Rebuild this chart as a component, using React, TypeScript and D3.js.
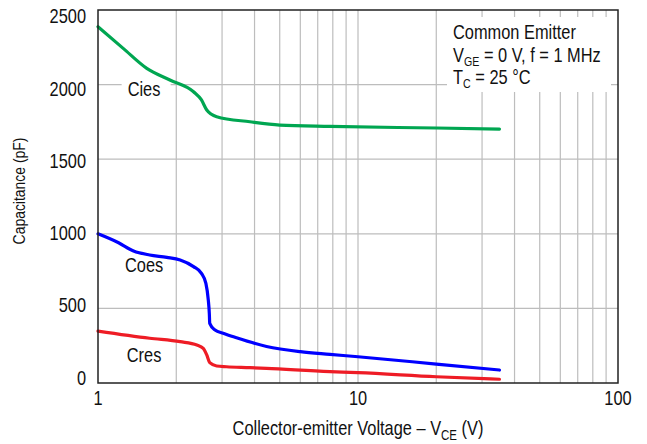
import React from "react";
import * as d3 from "d3";

const ciesV = [1, 1.25, 1.54, 1.89, 2.33, 2.5, 2.62, 2.86, 3.84, 5, 7.8, 20, 35];
const ciesC = [2388, 2243, 2109, 2031, 1952, 1897, 1830, 1785, 1751, 1729, 1720, 1709, 1702];

const coesV = [1, 1.2, 1.37, 1.58, 1.84, 2.07, 2.33, 2.5, 2.6, 2.656, 2.68, 2.69, 2.82, 3.03, 3.41, 4.45, 6.0, 7.8, 10, 20, 35];
const coesC = [1000, 940, 885, 858, 842, 824, 780, 735, 668, 556, 467, 400, 355, 333, 303, 245, 210, 192, 176, 127, 87];

const cresV = [1, 1.58, 2.07, 2.4, 2.54, 2.62, 2.69, 2.86, 3.12, 3.84, 4.45, 7.8, 10, 20, 35];
const cresC = [348, 300, 277, 255, 232, 188, 136, 114, 109, 103, 98, 76, 69, 42, 25];

const yTicks = [0, 500, 1000, 1500, 2000, 2500];
const xTickLabels = [1, 10, 100];
const xGrid = [2, 3, 4, 5, 6, 7, 8, 9, 10, 20, 30, 40, 50, 60, 70, 80, 90];

const seriesNames = ["Cies", "Coes", "Cres"];
const seriesColors = ["#00a651", "#0000ff", "#ee1c25"];

const W = 647;
const H = 444;
const FONT = "'Liberation Sans', Arial, Helvetica, sans-serif";
const SX = 0.82;

function CText(props: {
  x: number;
  y: number;
  size: number;
  anchor?: string;
  rotate?: number;
  dy?: string;
  children: React.ReactNode;
}) {
  const rot = props.rotate ? ` rotate(${props.rotate})` : "";
  return (
    <text
      transform={`translate(${props.x},${props.y})${rot} scale(${SX},1)`}
      textAnchor={props.anchor || "start"}
      fontSize={props.size}
      dy={props.dy}
      fill="#111"
    >
      {props.children}
    </text>
  );
}

export default function App() {
  const x = d3.scaleLog().domain([1, 100]).range([98, 618]);
  const y = d3.scaleLinear().domain([0, 2500]).range([383, 10]);
  const yLab = d3.scaleLinear().domain([0, 2500]).range([377.5, 16]);

  const series = [
    ciesV.map((v, i) => [v, ciesC[i]] as [number, number]),
    coesV.map((v, i) => [v, coesC[i]] as [number, number]),
    cresV.map((v, i) => [v, cresC[i]] as [number, number]),
  ];
  const line = d3
    .line<[number, number]>()
    .x((d) => x(d[0]))
    .y((d) => y(d[1]))
    .curve(d3.curveMonotoneX);

  const labelPos = [
    { v: 1.3, c: 1924 },
    { v: 1.27, c: 746 },
    { v: 1.29, c: 143 },
  ];

  return (
    <div style={{ position: "fixed", left: 0, top: 0 }}>
      <svg width={W} height={H} style={{ display: "block", background: "#fff" }} fontFamily={FONT}>
        {/* grid */}
        {xGrid.map((g) => (
          <line key={"xg" + g} x1={x(g)} x2={x(g)} y1={y(2500)} y2={y(0)} stroke="#bdbdbd" strokeWidth={1.2} />
        ))}
        {yTicks.slice(1, -1).map((t) => (
          <line key={"yg" + t} x1={x(1)} x2={x(100)} y1={y(t)} y2={y(t)} stroke="#bdbdbd" strokeWidth={1.2} />
        ))}

        {/* legend box */}
        <rect x={447} y={17} width={164} height={75} fill="#fff" />
        <CText x={453} y={39} size={20}>Common Emitter</CText>
        <CText x={453} y={62} size={20}>
          V<tspan fontSize={13} dy={4}>GE</tspan>
          <tspan dy={-4}> = 0 V, f = 1 MHz</tspan>
        </CText>
        <CText x={453} y={84} size={20}>
          T<tspan fontSize={13} dy={4}>C</tspan>
          <tspan dy={-4}> = 25 °C</tspan>
        </CText>

        {/* curve labels */}
        {seriesNames.map((n, i) => (
          <g key={n}>
            <rect x={x(labelPos[i].v) - 6} y={y(labelPos[i].c) - 16} width={49} height={22} fill="#fff" />
            <CText x={x(labelPos[i].v)} y={y(labelPos[i].c)} size={20}>{n}</CText>
          </g>
        ))}

        {/* curves */}
        {series.map((s, i) => (
          <path key={i} d={line(s) || ""} fill="none" stroke={seriesColors[i]} strokeWidth={3.2} strokeLinecap="round" strokeLinejoin="round" />
        ))}

        {/* frame */}
        <rect x={x(1)} y={y(2500)} width={x(100) - x(1)} height={y(0) - y(2500)} fill="none" stroke="#222" strokeWidth={1.5} />

        {/* y tick labels */}
        {yTicks.map((t) => (
          <CText key={"yt" + t} x={86} y={yLab(t)} dy="0.36em" anchor="end" size={20}>{t}</CText>
        ))}
        {/* x tick labels */}
        {xTickLabels.map((t) => (
          <CText key={"xt" + t} x={x(t)} y={405} anchor="middle" size={20}>{t}</CText>
        ))}

        {/* axis titles */}
        <CText x={358} y={435} anchor="middle" size={20}>
          Collector-emitter Voltage – V<tspan fontSize={14} dy={5}>CE</tspan>
          <tspan dy={-5}> (V)</tspan>
        </CText>
        <CText x={25} y={191} rotate={-90} anchor="middle" size={17}>Capacitance (pF)</CText>
      </svg>
    </div>
  );
}
